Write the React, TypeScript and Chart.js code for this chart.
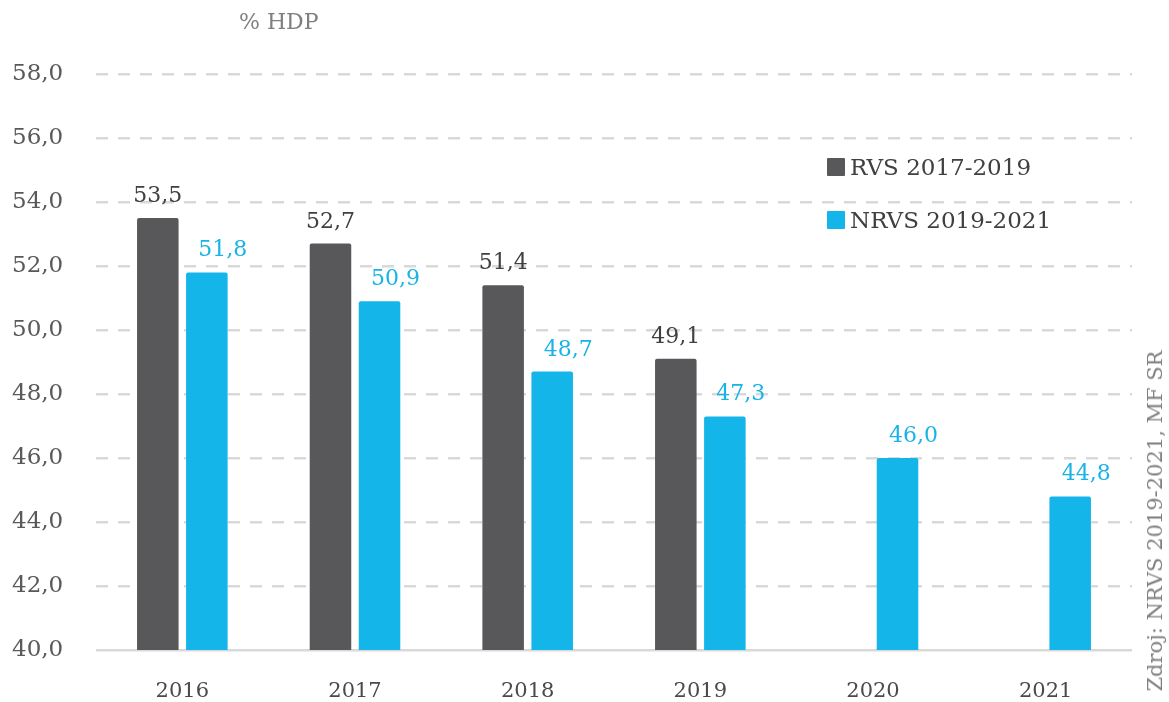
import React, { useEffect, useRef } from "react";
import { Chart, registerables } from "chart.js";

Chart.register(...registerables);

const categories = ["2016", "2017", "2018", "2019", "2020", "2021"];
const rvsValues: (number | null)[] = [53.5, 52.7, 51.4, 49.1, null, null];
const nrvsValues: (number | null)[] = [51.8, 50.9, 48.7, 47.3, 46.0, 44.8];
const seriesNames = ["RVS 2017-2019", "NRVS 2019-2021"];
const yMin = 40;
const yMax = 58;
const yStep = 2;
const unitLabel = "% HDP";
const sourceLabel = "Zdroj: NRVS 2019-2021, MF SR";

const DARK = "#58585a";
const BLUE = "#14b5e9";
const LABEL_COLORS = ["#404040", "#1ab3e6"];
const LABEL_DX = [0, 16];
const FONT = "'DejaVu Serif', 'Liberation Serif', serif";

const fmt = (v: number) => v.toFixed(1).replace(".", ",");

const valueLabels = {
  id: "valueLabels",
  afterDatasetsDraw(chart: any) {
    const ctx = chart.ctx;
    ctx.save();
    ctx.font = `22px ${FONT}`;
    ctx.textAlign = "center";
    ctx.textBaseline = "alphabetic";
    chart.data.datasets.forEach((ds: any, i: number) => {
      const meta = chart.getDatasetMeta(i);
      meta.data.forEach((el: any, j: number) => {
        const v = ds.data[j];
        if (v === null || v === undefined) return;
        ctx.fillStyle = LABEL_COLORS[i];
        ctx.fillText(fmt(v), el.x + LABEL_DX[i], el.y - 16);
      });
    });
    ctx.restore();
  },
};

export default function App() {
  const canvasRef = useRef<HTMLCanvasElement | null>(null);

  useEffect(() => {
    if (!canvasRef.current) return;
    const chart = new Chart(canvasRef.current, {
      type: "bar",
      data: {
        labels: categories,
        datasets: [
          {
            label: seriesNames[0],
            data: rvsValues,
            backgroundColor: DARK,
            borderRadius: 2,
            borderSkipped: "bottom",
            categoryPercentage: 0.568,
            barPercentage: 0.847,
          },
          {
            label: seriesNames[1],
            data: nrvsValues,
            backgroundColor: BLUE,
            borderRadius: 2,
            borderSkipped: "bottom",
            categoryPercentage: 0.568,
            barPercentage: 0.847,
          },
        ],
      },
      options: {
        responsive: false,
        animation: false,
        devicePixelRatio: 1,
        layout: { padding: { left: 12, right: 37, top: 74, bottom: 0 } },
        plugins: {
          legend: { display: false },
          tooltip: { enabled: false },
        },
        scales: {
          x: {
            grid: { display: false },
            border: { display: false },
            ticks: {
              color: "#4a4a4a",
              font: { family: FONT, size: 21 },
              padding: 21,
            },
            afterFit: (s: any) => {
              s.height = 52;
            },
          },
          y: {
            min: yMin,
            max: yMax,
            grid: {
              color: "#d9d9d9",
              lineWidth: 2.5,
              drawTicks: false,
            },
            border: {
              display: false,
              dash: (c: any) =>
                c.tick && c.tick.value === yMin ? [] : [12, 10],
            },
            ticks: {
              stepSize: yStep,
              color: "#595959",
              crossAlign: "far",
              font: { family: FONT, size: 23 },
              callback: (v: any) => fmt(Number(v)),
            },
            afterFit: (s: any) => {
              s.width = 84;
            },
          },
        },
      },
      plugins: [valueLabels],
    } as any);
    return () => chart.destroy();
  }, []);

  const legendColors = [DARK, BLUE];

  return (
    <div
      style={{
        position: "absolute",
        left: 0,
        top: 0,
        width: 1169,
        height: 702,
        background: "#fff",
        fontFamily: FONT,
      }}
    >
      <canvas ref={canvasRef} width={1169} height={702} style={{ display: "block" }} />
      <div
        style={{
          position: "absolute",
          left: 239,
          top: 9,
          fontSize: 22,
          color: "#7f7f7f",
          whiteSpace: "nowrap",
        }}
      >
        {unitLabel}
      </div>
      <div style={{ position: "absolute", left: 827, top: 150 }}>
        {seriesNames.map((name, i) => (
          <div
            key={name}
            style={{
              display: "flex",
              alignItems: "center",
              height: 34,
              marginBottom: i === 0 ? 19 : 0,
              fontSize: 23,
              color: "#404040",
              whiteSpace: "nowrap",
            }}
          >
            <span
              style={{
                display: "inline-block",
                width: 18,
                height: 18,
                background: legendColors[i],
                borderRadius: 1,
                marginRight: 5,
              }}
            />
            {name}
          </div>
        ))}
      </div>
      <div
        style={{
          position: "absolute",
          left: 1155,
          top: 521,
          transform: "translate(-50%, -50%) rotate(-90deg)",
          fontSize: 21,
          color: "#7f7f7f",
          whiteSpace: "nowrap",
        }}
      >
        {sourceLabel}
      </div>
    </div>
  );
}
